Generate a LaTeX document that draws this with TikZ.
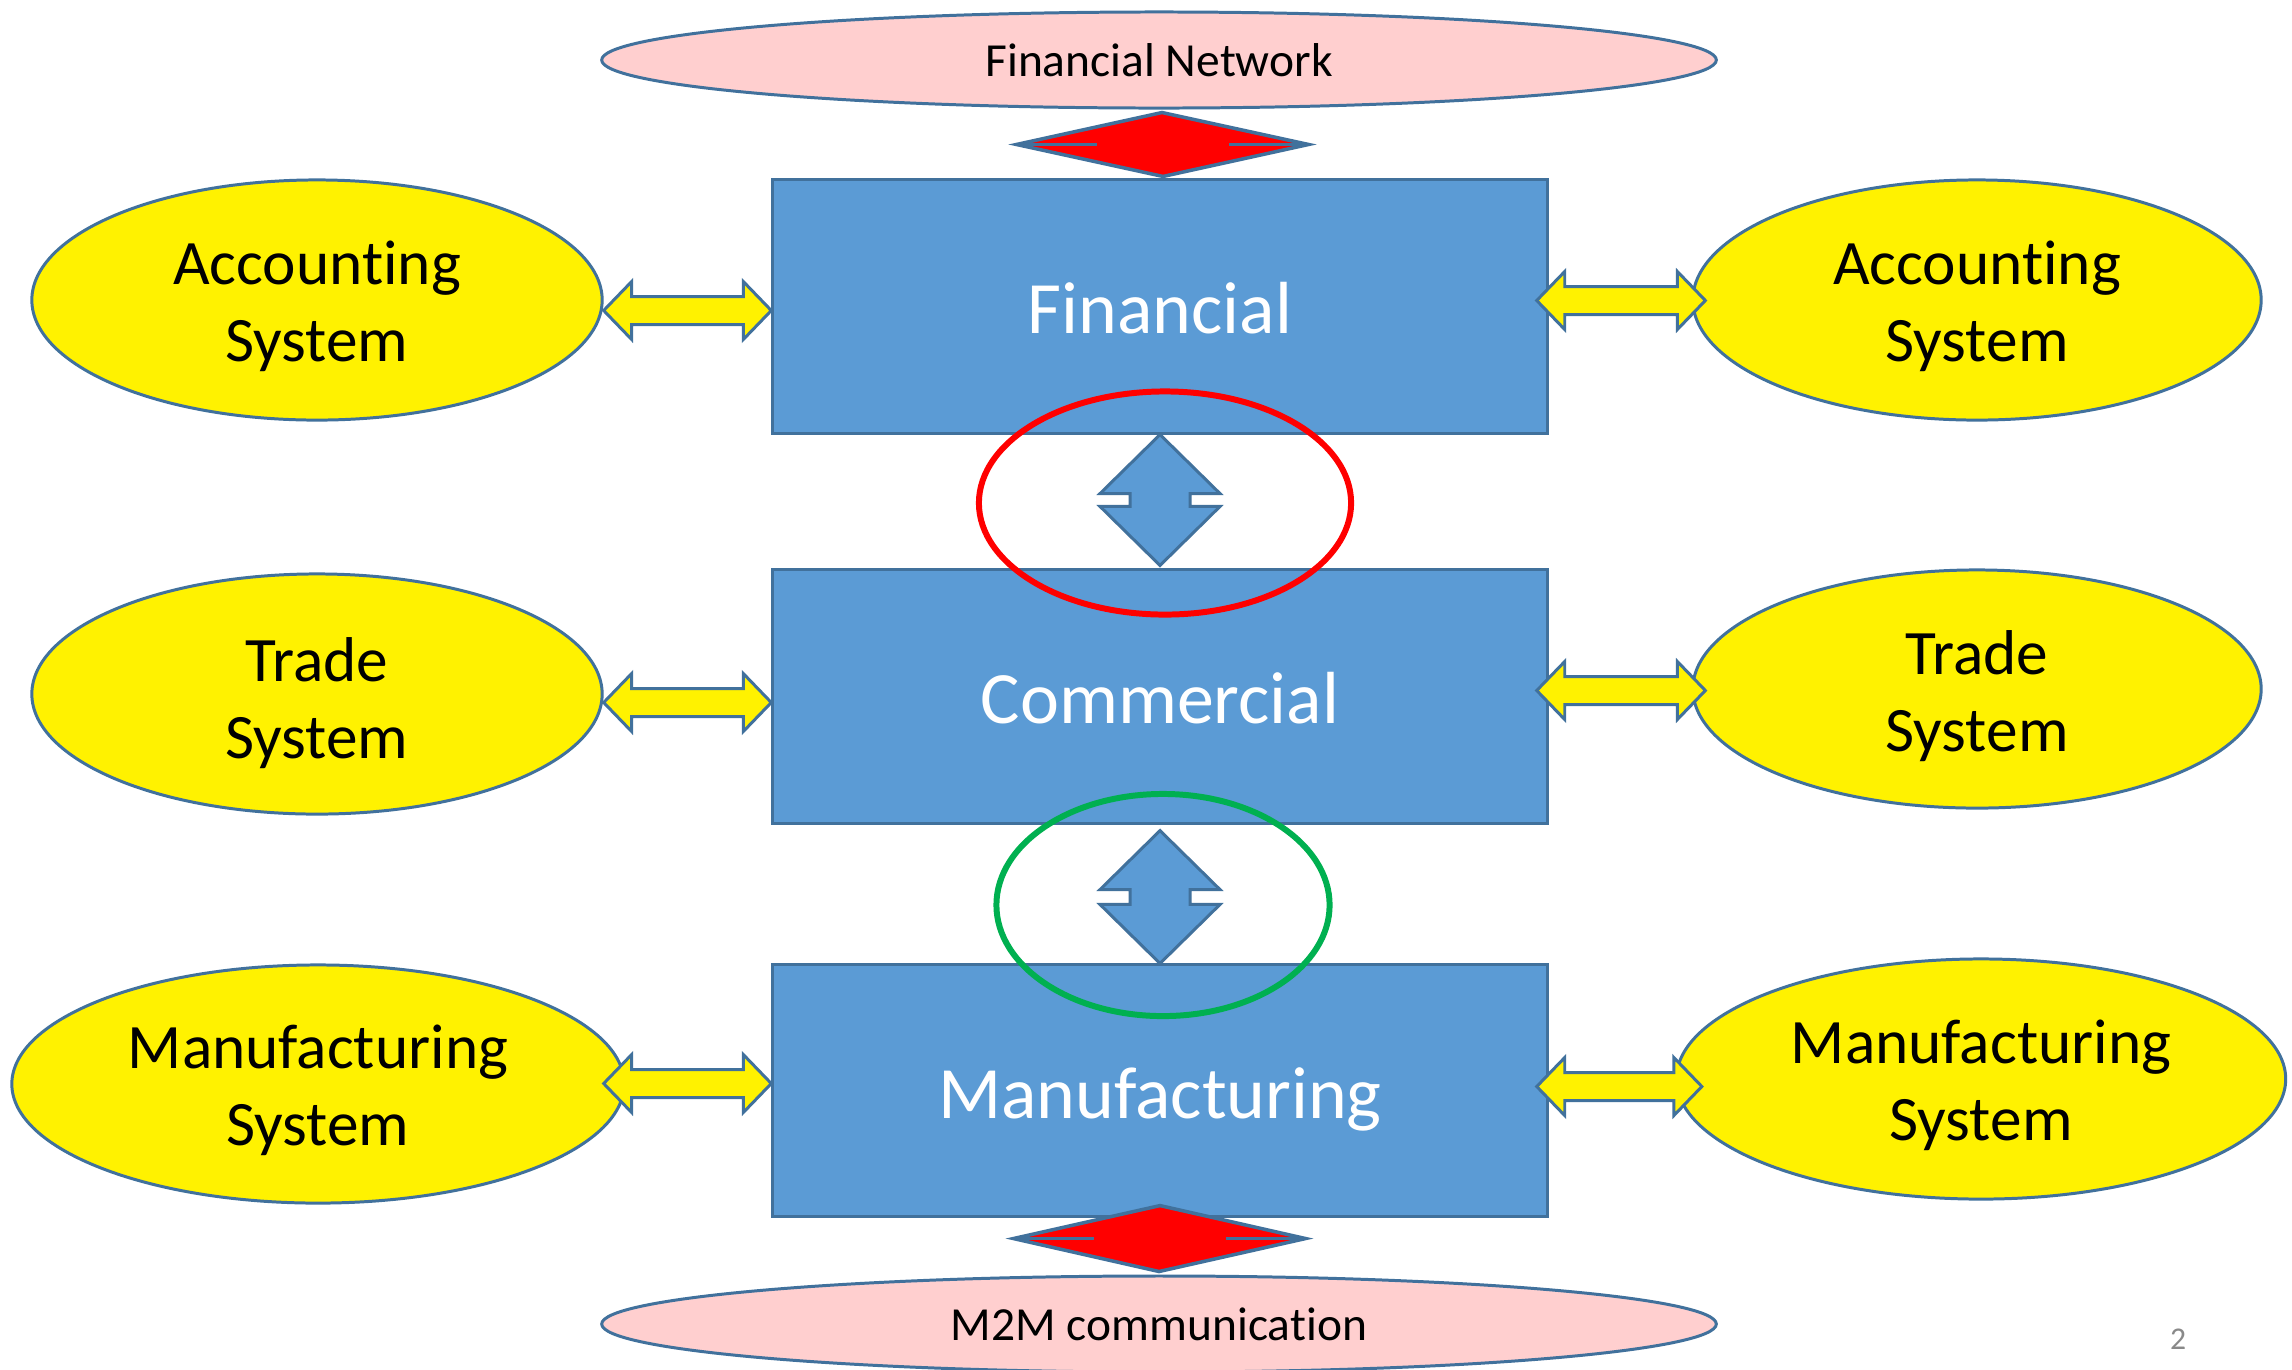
\documentclass[tikz,border=0pt]{standalone}
\usepackage{fontspec}
\setmainfont{Carlito}[RawFeature={-liga;-clig;-dlig;-calt;-rlig;-hlig}]
\usetikzlibrary{shapes.geometric,calc}
\definecolor{boxblue}{HTML}{5B9BD5}
\definecolor{edgeblue}{HTML}{41719C}
\definecolor{pinkfill}{HTML}{FFCFCF}
\definecolor{greenline}{HTML}{00B050}
\definecolor{pagegray}{HTML}{898989}
\tikzset{
  bluebox/.style={draw=edgeblue, fill=boxblue, line width=0.85pt, minimum width=7.74cm, inner sep=0pt},
  boxtext/.style={inner sep=0pt, text=white, font=\fontsize{21}{25}\selectfont},
  sysell/.style={ellipse, draw=edgeblue, fill=yellow, line width=0.85pt, inner sep=0pt},
  systext/.style={inner sep=0pt, align=center, font=\fontsize{18}{22}\selectfont},
  netell/.style={ellipse, draw=edgeblue, fill=pinkfill, line width=0.85pt, inner sep=0pt, minimum width=11.14cm, minimum height=0.96cm, font=\fontsize{13.5}{16}\selectfont},
  ringell/.style={ellipse, line width=1.7pt, inner sep=0pt},
  yarrow/.style={draw=edgeblue, fill=yellow, line width=0.85pt, line join=miter},
  barrow/.style={draw=edgeblue, fill=boxblue, line width=0.85pt, line join=miter},
  rdia/.style={draw=edgeblue, fill=red, line width=1pt, line join=miter},
  rdialine/.style={draw=edgeblue, line width=1pt},
}
\newcommand{\hdarr}[2]{%
  \draw[yarrow] (#1) -- ++(28,-29) -- ++(0,15) -- ($(#2)+(-28,-14)$) -- ++(0,-15) -- (#2) -- ++(-28,29) -- ++(0,-15) -- ($(#1)+(28,14)$) -- ++(0,15) -- cycle;}
\newcommand{\vdarr}[2]{%
  \draw[barrow] (#1) -- ++(60,59) -- ++(-30,0) -- ($(#2)+(30,-59)$) -- ++(30,0) -- (#2) -- ++(-60,-59) -- ++(30,0) -- ($(#1)+(-30,59)$) -- ++(-30,0) -- cycle;}
\newcommand{\rdiam}[2]{%
  \path (#1) -- (#2) coordinate[pos=0.5] (dmid);
  \draw[rdia] (#1) -- ($(dmid)+(146,0)$) -- (#2) -- ($(dmid)+(-146,0)$) -- cycle;
  \draw[rdialine] ($(dmid)+(-146,0)$) -- ++(80,0) ($(dmid)+(146,0)$) -- ++(-80,0);}
\begin{document}
\begin{tikzpicture}[x=0.01cm,y=-0.01cm]
\useasboundingbox[fill=white] (0,0) rectangle (2292,1369);
% central boxes
\node[bluebox, minimum height=2.53cm] (fin) at (1160,306.5) {};
\node[bluebox, minimum height=2.53cm] (com) at (1160,696.5) {};
\node[bluebox, minimum height=2.51cm] (man) at (1160,1090.5) {};
\node[boxtext] (finT) at ($(fin.center)+(0,2)$) {Financial};
\node[boxtext] (comT) at ($(com.center)+(0,2)$) {Commercial};
\node[boxtext] (manT) at ($(man.center)+(0,9)$) {Manufacturing};
% network ellipses
\node[netell] (fnet) at (1159,60) {Financial Network};
\node[netell] (m2m) at (1159,1324) {M2M communicat\kern0pt ion};
% system ellipses
\node[sysell, minimum width=5.70cm, minimum height=2.40cm] (accL) at (317,300) {};
\node[sysell, minimum width=5.70cm, minimum height=2.40cm] (trL) at (317,694) {};
\node[sysell, minimum width=6.12cm, minimum height=2.38cm] (manL) at (318,1084) {};
\node[sysell, minimum width=5.68cm, minimum height=2.40cm] (accR) at (1977,300) {};
\node[sysell, minimum width=5.68cm, minimum height=2.38cm] (trR) at (1977,689) {};
\node[sysell, minimum width=6.09cm, minimum height=2.40cm] (manR) at (1981,1079) {};
\node[systext] (accLt) at ($(accL.center)+(0,6)$) {Account\kern0pt ing\\System};
\node[systext] (trLt) at ($(trL.center)+(0,9)$) {Trade\\System};
\node[systext] (manLt) at ($(manL.center)+(0,6)$) {Manufacturing\\System};
\node[systext] (accRt) at ($(accR.center)+(0,6)$) {Account\kern0pt ing\\System};
\node[systext] (trRt) at ($(trR.center)+(0,7)$) {Trade\\System};
\node[systext] (manRt) at ($(manR.center)+(0,6)$) {Manufacturing\\System};
% yellow double arrows
\hdarr{$(accL.east |- fin.west)+(0,4)$}{$(fin.west)+(0,4)$}
\hdarr{$(trL.east |- com.west)+(0,6)$}{$(com.west)+(0,6)$}
\hdarr{$(manL.east |- man.west)+(-22,-7)$}{$(man.west)+(0,-7)$}
\hdarr{$(fin.east)+(-12,-6)$}{$(accR.west |- fin.east)+(14,-6)$}
\hdarr{$(com.east)+(-12,-6)$}{$(trR.west |- com.east)+(14,-6)$}
\hdarr{$(man.east)+(-12,-4)$}{$(manR.west |- man.east)+(27,-4)$}
% blue vertical double arrows
\vdarr{fin.south}{$(com.north)+(0,-3)$}
\vdarr{$(com.south)+(0,6)$}{man.north}
% red diamonds
\rdiam{$(fnet.south)+(3,3)$}{$(fin.north)+(3,-2)$}
\rdiam{$(man.south)+(0,-12)$}{$(m2m.north)+(0,-3)$}
% highlight rings
\node[ringell, draw=red, minimum width=3.72cm, minimum height=2.23cm] (ringR) at (1165,503) {};
\node[ringell, draw=greenline, minimum width=3.33cm, minimum height=2.22cm] (ringG) at (1163,905) {};
% page number
\node[text=pagegray, font=\fontsize{9}{11}\selectfont] (pnum) at (2178,1339) {2};
\end{tikzpicture}
\end{document}
